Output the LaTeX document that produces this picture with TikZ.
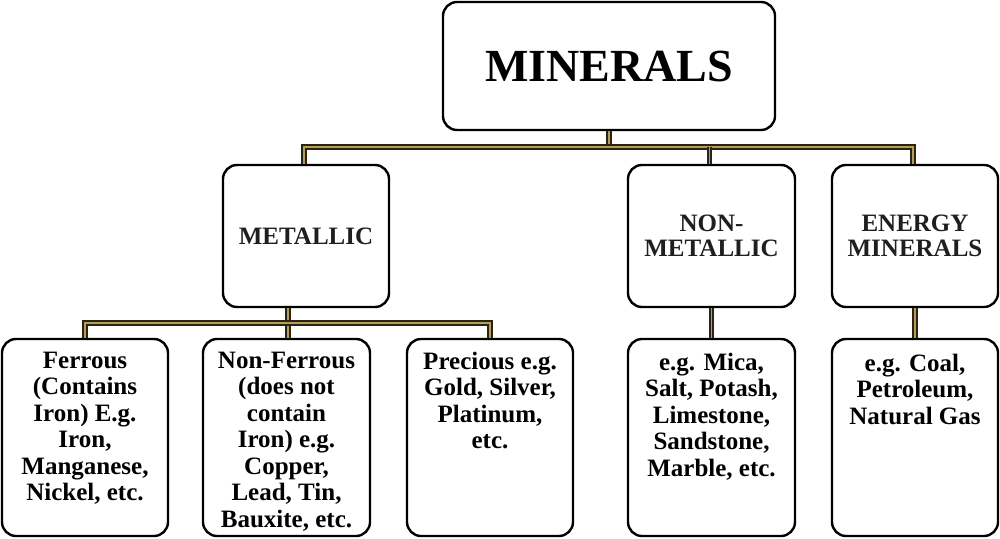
\documentclass[tikz,border=0pt]{standalone}
\usepackage{fontspec}
\setmainfont{Liberation Serif}
\begin{document}
\begin{tikzpicture}[x=1pt,y=-1pt,
  box/.style={draw=black, line width=2.4pt, rounded corners=14pt, fill=white, inner sep=0pt},
  toptxt/.style={font=\fontsize{25}{25}\selectfont\bfseries, align=center, inner sep=0pt, text=black!88},
  lowtxt/.style={font=\fontsize{25}{26.5}\selectfont\bfseries, align=center, inner sep=0pt, anchor=north},
  conn/.style={draw=connDark, line width=1.9pt, double=connGold, double distance=1.9pt}
]
\definecolor{connDark}{HTML}{2A2414}
\definecolor{connGold}{HTML}{B89C58}
\useasboundingbox (0,0) rectangle (1000,538);
% connectors (behind the boxes)
\coordinate (b1) at (609,147);
\coordinate (m1) at (288,323);
% boxes
\node[box, minimum width=332pt, minimum height=128pt] (root) at (609,66) {};
\node[font=\fontsize{46}{46}\selectfont\bfseries, inner sep=0pt] (roott) at (root.center) {MINERALS};
\node[box, minimum width=166pt, minimum height=142pt] (metal) at (306,236) {};
\node[toptxt] (metalt) at (metal.center) {METALLIC};
\node[box, minimum width=167pt, minimum height=142pt] (nonmet) at (711.5,236) {};
\node[toptxt] (nonmett) at (nonmet.center) {NON-\\METALLIC};
\node[box, minimum width=166pt, minimum height=142pt] (energy) at (915,236) {};
\node[toptxt] (energyt) at (energy.center) {ENERGY\\MINERALS};
\node[box, minimum width=166pt, minimum height=197pt] (ferrous) at (85,437.5) {};
\node[box, minimum width=167pt, minimum height=197pt] (nonfer) at (286.5,437.5) {};
\node[box, minimum width=166pt, minimum height=197pt] (precious) at (490,437.5) {};
\node[box, minimum width=167pt, minimum height=197pt] (nmchild) at (711.5,437.5) {};
\node[box, minimum width=166pt, minimum height=197pt] (enchild) at (915,437.5) {};
% lower texts
\node[lowtxt] (ferroust) at (85,351.5) {Ferrous\\(Contains\\Iron) E.g.\\Iron,\\Manganese,\\Nickel, etc.};
\node[lowtxt] (nonfert) at (286.5,351.5) {Non-Ferrous\\(does not\\contain\\Iron) e.g.\\Copper,\\Lead, Tin,\\Bauxite, etc.};
\node[lowtxt] (preciioust) at (490,351.5) {Precious e.g.\\Gold, Silver,\\Platinum,\\etc.};
\node[lowtxt] (nmchildt) at (711.5,352.5) {e.g. Mica,\\Salt, Potash,\\Limestone,\\Sandstone,\\Marble, etc.};
\node[lowtxt] (enchildt) at (915,353.5) {e.g. Coal,\\Petroleum,\\Natural Gas};
% connectors
\draw[conn] (root.south) -- (b1);
\draw[conn] ([xshift=-2pt]metal.north) -- ([xshift=-2pt]metal.north |- b1) -- ([xshift=-2pt]energy.north |- b1) -- ([xshift=-2pt]energy.north);
\draw[conn] ([xshift=-2pt]nonmet.north |- b1) -- ([xshift=-2pt]nonmet.north);
\draw[conn] (m1 |- metal.south) -- (nonfer.north -| m1);
\draw[conn] (ferrous.north) -- (ferrous.north |- m1) -- (precious.north |- m1) -- (precious.north);
\draw[conn] (nonmet.south) -- (nmchild.north);
\draw[conn] (energy.south) -- (enchild.north);
\end{tikzpicture}
\end{document}
